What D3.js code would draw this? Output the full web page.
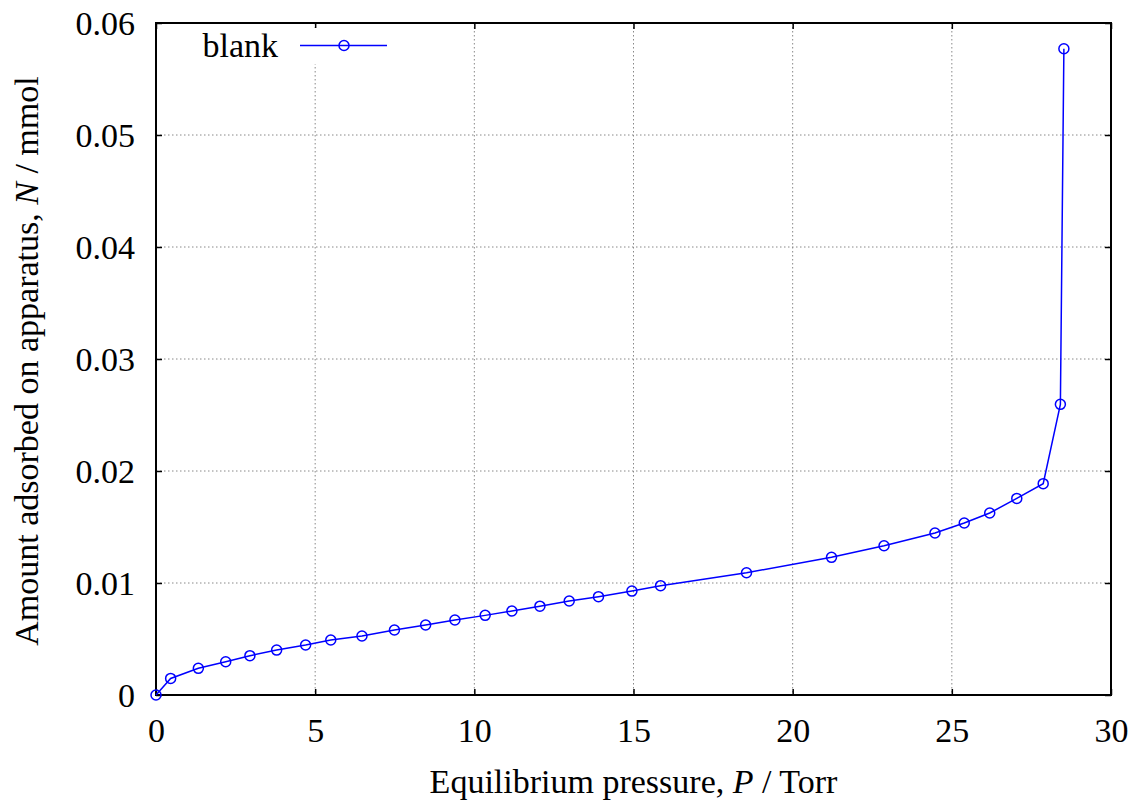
<!DOCTYPE html>
<html>
<head>
<meta charset="utf-8">
<script src="https://cdn.jsdelivr.net/npm/d3@7"></script>
<style>
  html, body { margin: 0; padding: 0; background: #fff; }
  svg { display: block; }
  text { font-family: "Liberation Serif", Tinos, "Times New Roman", Times, "Nimbus Roman", "DejaVu Serif", serif; fill: #000; }
</style>
</head>
<body>
<svg id="chart" width="1138" height="803"></svg>
<script>
// Blank run: amount adsorbed on the apparatus vs equilibrium pressure
const seriesName = "blank";
const pressure = [0, 0.46, 1.33, 2.19, 2.95, 3.79, 4.70, 5.49, 6.47, 7.49, 8.47, 9.39,
  10.34, 11.18, 12.06, 12.98, 13.90, 14.95, 15.85, 18.55, 21.22, 22.87,
  24.47, 25.39, 26.19, 27.04, 27.87, 28.41, 28.52];
const amount = [0, 0.00148, 0.00238, 0.00297, 0.00351, 0.00401, 0.00446, 0.00491,
  0.00527, 0.00580, 0.00625, 0.00670, 0.00711, 0.00750, 0.00793, 0.00839,
  0.00878, 0.00928, 0.00976, 0.01092, 0.01229, 0.01333, 0.01446, 0.01536,
  0.01625, 0.01755, 0.01887, 0.02595, 0.0577];
const xTicks = [0, 5, 10, 15, 20, 25, 30];
const yTicks = [0, 0.01, 0.02, 0.03, 0.04, 0.05, 0.06];
const yTickLabels = ["0", "0.01", "0.02", "0.03", "0.04", "0.05", "0.06"];

const svg = d3.select("#chart");
const m = { left: 156, right: 1111, top: 23, bottom: 695 };
const x = d3.scaleLinear().domain([0, 30]).range([m.left, m.right]);
const y = d3.scaleLinear().domain([0, 0.06]).range([m.bottom, m.top]);
const color = "#0000ff";
const fontSize = 34;

// Dotted grid
const grid = svg.append("g").attr("stroke", "#888").attr("stroke-width", 1)
  .attr("stroke-dasharray", "1.5,2.5");
grid.selectAll("line.gx").data(xTicks.slice(1, -1)).join("line")
  .attr("x1", d => x(d)).attr("x2", d => x(d))
  .attr("y1", m.top).attr("y2", m.bottom);
grid.selectAll("line.gy").data(yTicks.slice(1, -1)).join("line")
  .attr("x1", m.left).attr("x2", m.right)
  .attr("y1", d => y(d)).attr("y2", d => y(d));

// Inward ticks on all four sides
const tickLen = 6;
const axB = d3.axisBottom(x).tickValues(xTicks).tickSize(-tickLen).tickFormat(d => d);
const axT = d3.axisTop(x).tickValues(xTicks).tickSize(-tickLen).tickFormat("");
const axL = d3.axisLeft(y).tickValues(yTicks).tickSize(-tickLen).tickFormat((d, i) => yTickLabels[i]);
const axR = d3.axisRight(y).tickValues(yTicks).tickSize(-tickLen).tickFormat("");

function styleAxis(g) {
  g.attr("font-family", null);
  g.select(".domain").remove();
  g.selectAll(".tick line").attr("stroke", "#000").attr("stroke-width", 1.5);
  g.selectAll("text").attr("font-size", fontSize).attr("fill", "#000");
}
svg.append("g").attr("transform", `translate(0,${m.bottom})`).call(axB).call(styleAxis)
  .selectAll("text").attr("dy", null).attr("y", 47);
svg.append("g").attr("transform", `translate(0,${m.top})`).call(axT).call(styleAxis);
svg.append("g").attr("transform", `translate(${m.left},0)`).call(axL).call(styleAxis)
  .selectAll("text").attr("x", -21).attr("dy", "0.35em");
svg.append("g").attr("transform", `translate(${m.right},0)`).call(axR).call(styleAxis);

// Frame
svg.append("rect").attr("x", m.left).attr("y", m.top)
  .attr("width", m.right - m.left).attr("height", m.bottom - m.top)
  .attr("fill", "none").attr("stroke", "#000").attr("stroke-width", 2);

// Series line and markers
const pts = pressure.map((p, i) => [p, amount[i]]);
svg.append("path").datum(pts)
  .attr("fill", "none").attr("stroke", color).attr("stroke-width", 1.5)
  .attr("d", d3.line().x(d => x(d[0])).y(d => y(d[1])));
svg.append("g").selectAll("circle").data(pts).join("circle")
  .attr("cx", d => x(d[0])).attr("cy", d => y(d[1])).attr("r", 5)
  .attr("fill", "none").attr("stroke", color).attr("stroke-width", 1.5);

// Legend
const lg = svg.append("g");
lg.append("rect").attr("x", 196).attr("y", 28).attr("width", 196).attr("height", 36).attr("fill", "#fff");
lg.append("text").attr("x", 278).attr("y", 57).attr("text-anchor", "end")
  .attr("font-size", fontSize).text(seriesName);
lg.append("line").attr("x1", 300).attr("x2", 387).attr("y1", 45.5).attr("y2", 45.5)
  .attr("stroke", color).attr("stroke-width", 1.5);
lg.append("circle").attr("cx", 344).attr("cy", 45.5).attr("r", 5)
  .attr("fill", "none").attr("stroke", color).attr("stroke-width", 1.5);

// Axis titles
const xt = svg.append("text").attr("x", (m.left + m.right) / 2).attr("y", 793)
  .attr("text-anchor", "middle").attr("font-size", fontSize);
xt.append("tspan").text("Equilibrium pressure, ");
xt.append("tspan").attr("font-style", "italic").text("P");
xt.append("tspan").text(" / Torr");

const yt = svg.append("text")
  .attr("transform", `translate(38,361) rotate(-90)`)
  .attr("text-anchor", "middle").attr("font-size", fontSize);
yt.append("tspan").text("Amount adsorbed on apparatus, ");
yt.append("tspan").attr("font-style", "italic").text("N");
yt.append("tspan").text(" / mmol");
</script>
</body>
</html>
